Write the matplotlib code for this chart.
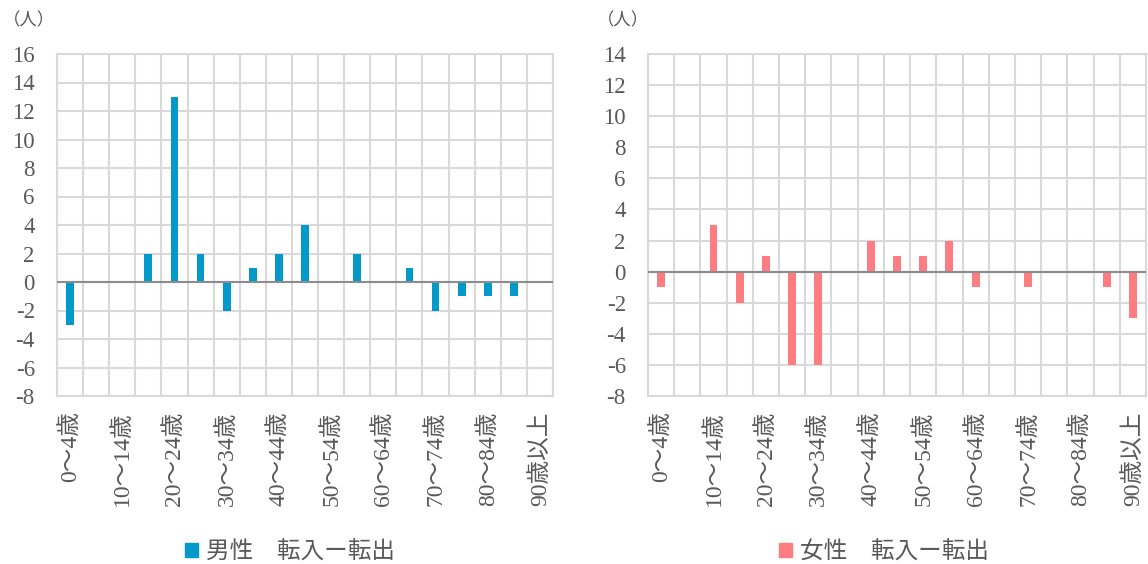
import matplotlib
matplotlib.use("Agg")
import matplotlib.pyplot as plt
from matplotlib.patches import Patch
import numpy as np

plt.rcParams["axes.unicode_minus"] = False

categories = ["0～4歳", "5～9歳", "10～14歳", "15～19歳", "20～24歳", "25～29歳",
              "30～34歳", "35～39歳", "40～44歳", "45～49歳", "50～54歳", "55～59歳",
              "60～64歳", "65～69歳", "70～74歳", "75～79歳", "80～84歳", "85～89歳",
              "90歳以上"]
male = [-3, 0, 0, 2, 13, 2, -2, 1, 2, 4, 0, 2, 0, 1, -2, -1, -1, -1, 0]
female = [-1, 0, 3, -2, 1, -6, -6, 0, 2, 1, 1, 2, -1, 0, -1, 0, 0, -1, -3]
male_label = "男性　転入ー転出"
female_label = "女性　転入ー転出"
unit_label = "（人）"

W, H = 1148, 564
fig = plt.figure(figsize=(W / 100, H / 100), dpi=100)

TXT = "#595959"
GRID = "#D9D9D9"
SERIF = ["Liberation Serif", "Noto Sans CJK JP"]
CJK = ["Noto Sans CJK JP", "DejaVu Sans"]


def panel(rect, values, color, ylim, label, legend_x, unit_x):
    ax = fig.add_axes([rect[0] / W, 1 - rect[3] / H, (rect[2] - rect[0]) / W, (rect[3] - rect[1]) / H])
    x = np.arange(len(categories))
    ax.bar(x, values, width=0.3, color=color, zorder=3)
    ax.axhline(0, color="#8C8C8C", lw=1.5, zorder=4)
    ax.set_xlim(-0.5, len(categories) - 0.5)
    ax.set_ylim(*ylim)
    ax.set_yticks(np.arange(ylim[0], ylim[1] + 1, 2))
    ax.set_xticks(x[::2])
    ax.set_xticklabels([categories[i] for i in x[::2]], rotation=90, family=SERIF,
                       fontsize=17, color=TXT)
    ax.set_xticks(np.arange(-0.5, len(categories), 1), minor=True)
    ax.grid(True, which="minor", axis="x", color=GRID, lw=1.5, zorder=0)
    ax.grid(True, which="major", axis="y", color=GRID, lw=1.5, zorder=0)
    ax.tick_params(axis="both", which="both", length=0)
    ax.tick_params(axis="y", pad=16, labelsize=16.5, labelcolor=TXT)
    ax.tick_params(axis="x", pad=11)
    for lab in ax.get_yticklabels():
        lab.set_family(SERIF)
    for sp in ax.spines.values():
        sp.set_color(GRID)
        sp.set_linewidth(1.5)
    fig.text(unit_x / W, 1 - 20 / H, unit_label, family=CJK, fontsize=12.5, color=TXT,
             ha="left", va="center")
    leg = fig.legend(handles=[Patch(color=color)], labels=[label],
                     loc="center", bbox_to_anchor=(legend_x / W, 1 - 552 / H),
                     frameon=False, prop={"family": CJK, "size": 17},
                     handlelength=0.55, handleheight=0.55, handletextpad=0.3)
    for t in leg.get_texts():
        t.set_color(TXT)
    return ax


panel((57, 54, 553, 396), male, "#0399CB", (-8, 16), male_label, 290, 3)
panel((648, 54, 1146, 396), female, "#FF7C80", (-8, 14), female_label, 884, 597)

fig.savefig("out.png", dpi=100)
